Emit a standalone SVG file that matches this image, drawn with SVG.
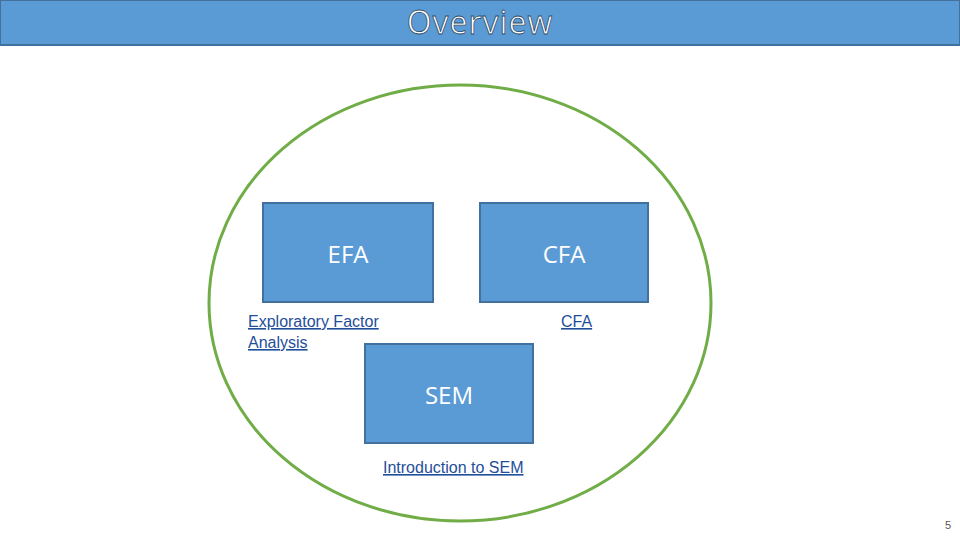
<svg xmlns="http://www.w3.org/2000/svg" width="960" height="540" viewBox="0 0 960 540">
<style>
.box{fill:#5b9bd5;stroke:#41719c;stroke-width:2}
.bt{font-family:"Open Sans","Liberation Sans",sans-serif;font-size:24px;fill:#fff;text-anchor:middle}
.lk{font-family:"Liberation Sans",Arial,sans-serif;font-size:16px;fill:#1f4e9a;text-decoration:underline}
</style>
<rect width="960" height="540" fill="#fff"/>
<g id="title">
<rect x="0" y="0" width="960" height="45" fill="#5b9bd5" stroke="#41719c" stroke-width="2"/>
<text x="480" y="34" font-family="Open Sans,sans-serif" font-size="32" fill="#fff" stroke="#2e4a66" stroke-width="0.8" text-anchor="middle" letter-spacing="1">Overview</text>
</g>
<g id="circle"><ellipse cx="460" cy="303" rx="251" ry="218" fill="none" stroke="#70ad47" stroke-width="3"/></g>
<g id="efa"><rect class="box" x="263" y="203" width="170" height="99"/><text class="bt" x="348" y="263">EFA</text>
<text class="lk" x="248" y="327">Exploratory Factor</text><text class="lk" x="248" y="348">Analysis</text></g>
<g id="cfa"><rect class="box" x="480" y="203" width="168" height="99"/><text class="bt" x="564" y="263">CFA</text>
<text class="lk" x="561" y="327">CFA</text></g>
<g id="sem"><rect class="box" x="365" y="344" width="168" height="99"/><text class="bt" x="449" y="404">SEM</text>
<text class="lk" x="383" y="473">Introduction to SEM</text></g>
<g id="connectors"/>
<text x="951" y="529" font-family="Liberation Sans,sans-serif" font-size="11" fill="#595959" text-anchor="end">5</text>
</svg>
